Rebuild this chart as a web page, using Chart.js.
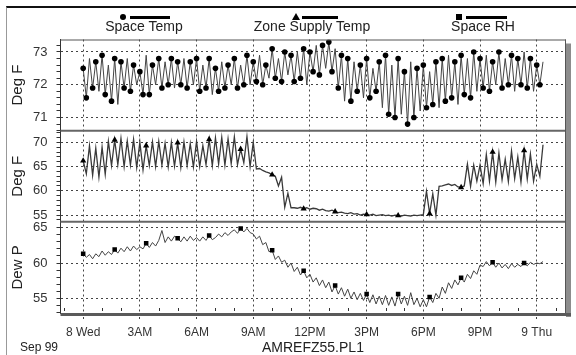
<!DOCTYPE html>
<html>
<head>
<meta charset="utf-8">
<script src="https://cdn.jsdelivr.net/npm/chart.js@4.4.0/dist/chart.umd.min.js"></script>
<style>
  body { margin: 0; background: #fff; font-family: "Liberation Sans", Arial, sans-serif; }
  #wrap { position: relative; width: 576px; height: 355px; overflow: hidden; background: #fff; }
  #frame { position: absolute; left: 6px; top: 6px; width: 580px; height: 347px; border-top: 2px solid #111; border-left: 1px solid #999; border-bottom: 1px solid #bbb; }
  canvas { position: absolute; left: 0; top: 0; }
  .lbl { position: absolute; font-size: 14px; line-height: 16px; color: #222; transform: translateX(-50%); white-space: nowrap; }
  .bar { position: absolute; height: 3px; background: #000; }
  .dot { position: absolute; width: 6px; height: 6px; border-radius: 50%; background: #000; }
  .sq { position: absolute; width: 6px; height: 6px; background: #000; }
  .tri { position: absolute; width: 0; height: 0; border-left: 4px solid transparent; border-right: 4px solid transparent; border-bottom: 7px solid #000; }
  .foot { position: absolute; color: #222; white-space: nowrap; }
</style>
</head>
<body>
<div id="wrap">
  <div id="frame"></div>
  <canvas id="chart" width="576" height="355"></canvas>

  <div class="dot" style="left:120px; top:14px;"></div>
  <div class="bar" style="left:130px; top:16px; width:40px;"></div>
  <div class="lbl" style="left:144px; top:18px;">Space Temp</div>

  <div class="tri" style="left:292px; top:13px;"></div>
  <div class="bar" style="left:302px; top:16px; width:36px;"></div>
  <div class="lbl" style="left:312px; top:18px;">Zone Supply Temp</div>

  <div class="sq" style="left:456px; top:14px;"></div>
  <div class="bar" style="left:466px; top:16px; width:41px;"></div>
  <div class="lbl" style="left:483px; top:18px;">Space RH</div>

  <div class="foot" style="left:20px; top:340px; font-size:12px;">Sep 99</div>
  <div class="foot" style="left:262px; top:339px; font-size:14px;">AMREFZ55.PL1</div>
</div>
<script>
const family = '"Liberation Sans", Arial, sans-serif';

// x axis: hours from midnight, Sep 8 -> Sep 9
const hourTicks = [0, 3, 6, 9, 12, 15, 18, 21, 24];
const hourLabels = ['8 Wed', '3AM', '6AM', '9AM', '12PM', '3PM', '6PM', '9PM', '9 Thu'];
const sampleHours = 1 / 6; // one reading every 10 minutes

const spaceTempTicks = [71, 72, 73];
const supplyTempTicks = [55, 60, 65, 70];
const dewPointTicks = [55, 60, 65];

// Space Temp (Deg F)
const spaceTemp = [
  72.5, 71.6, 72.8, 71.9, 72.7, 71.8,
  72.9, 71.7, 72.6, 71.5, 72.8, 71.4,
  72.7, 71.9, 72.8, 71.8, 72.6, 72.0,
  72.4, 71.7, 72.9, 71.7, 72.6, 72.0,
  72.8, 71.9, 72.7, 72.0, 72.8, 71.9,
  72.7, 72.0, 72.8, 71.9, 72.7, 72.0,
  72.8, 71.8, 72.6, 71.9, 72.8, 71.7,
  72.5, 71.8, 72.7, 71.9, 72.6, 72.0,
  72.8, 71.9, 72.6, 72.0, 72.9, 72.0,
  72.7, 72.1, 72.9, 72.0, 72.6, 72.2,
  73.1, 72.2, 72.8, 72.1, 73.0, 72.3,
  72.9, 72.1, 73.0, 72.2, 73.1, 72.0,
  73.0, 72.4, 73.2, 72.3, 73.2, 72.5,
  73.3, 72.4, 73.1, 71.9, 72.9, 71.5,
  72.8, 71.5, 72.7, 71.8, 72.6, 71.6,
  72.8, 71.6, 72.5, 71.8, 72.7, 71.3,
  72.9, 71.1, 72.6, 71.0, 72.8, 71.1,
  72.4, 70.8, 72.7, 71.0, 72.5, 71.2,
  72.6, 71.3, 72.4, 71.4, 72.7, 71.3,
  72.8, 71.5, 72.9, 71.6, 72.7, 71.4,
  72.9, 71.7, 72.8, 71.6, 73.0, 71.8,
  72.8, 71.9, 72.9, 71.8, 72.7, 72.0,
  73.0, 71.9, 72.8, 72.0, 72.9, 71.8,
  72.8, 72.0, 73.0, 71.9, 72.8, 71.8,
  72.6, 72.0, 72.7
];

// Zone Supply Temp (Deg F)
const supplyTemp = [
  66.2, 63.5, 69.3, 63.2, 68.8, 62.8,
  69.0, 63.4, 70.2, 65.2, 70.5, 65.4,
  70.8, 65.0, 70.3, 65.3, 70.6, 64.8,
  70.0, 64.3, 69.3, 65.2, 70.1, 65.0,
  70.2, 65.3, 69.8, 64.9, 70.0, 65.1,
  69.9, 64.8, 70.1, 65.2, 69.7, 64.9,
  70.2, 65.0, 69.3, 65.4, 70.6, 65.2,
  70.9, 65.5, 71.0, 65.3, 70.7, 65.6,
  71.1, 65.4, 68.6, 65.8, 71.2, 65.0,
  70.0, 64.5, 64.6, 64.2, 63.9, 63.7,
  63.3, 63.0, 61.0, 62.8, 56.6, 59.5,
  56.5, 56.5, 56.4, 56.6, 56.3, 56.5,
  56.2, 56.4, 56.3, 56.0, 56.2, 55.9,
  55.8, 56.0, 55.7, 55.5, 55.6, 55.4,
  55.3, 55.5, 55.2, 55.3, 55.0, 55.2,
  55.1, 55.0, 55.2, 54.9, 55.0, 55.1,
  54.9, 55.0, 54.8, 55.0, 54.9, 54.8,
  55.0, 54.9, 54.8, 55.0, 54.9, 55.0,
  55.1, 59.9, 55.3, 59.4, 55.0, 60.9,
  61.0, 61.2, 61.4, 61.1, 61.3, 60.8,
  60.7, 61.0, 65.5, 60.9, 65.3, 62.0,
  65.3, 61.5, 67.5, 62.0, 68.0, 61.8,
  67.8, 62.3, 66.5, 61.9, 68.2, 62.5,
  67.0, 61.8, 68.3, 62.4, 67.6, 62.0,
  65.5, 63.0, 69.5
];

// Dew Point (Deg F)
const dewPoint = [
  61.3, 60.8, 61.2, 60.6, 61.3, 60.9,
  61.7, 61.1, 61.6, 61.2, 61.9, 61.4,
  62.1, 61.6, 62.3, 61.7, 62.4, 61.9,
  62.3, 62.0, 62.8, 62.2, 62.9, 62.4,
  63.2, 64.6, 62.9, 63.7, 63.1, 63.8,
  63.5, 63.0, 63.7, 63.1, 63.8, 63.2,
  63.6, 63.1, 63.7, 63.2, 63.9, 63.3,
  63.6, 64.1, 63.7, 64.3, 63.9, 64.4,
  64.7, 64.2, 64.9, 64.4, 64.9, 64.3,
  64.1, 63.4, 63.8, 62.6, 62.9, 61.6,
  61.8, 60.5, 61.0, 60.1, 60.4, 59.4,
  60.0, 58.8, 59.4, 58.3, 58.9, 57.9,
  58.4, 57.3, 57.9, 56.8, 57.6, 56.5,
  57.3, 55.9, 56.8, 55.6, 56.5, 55.3,
  56.3, 55.0, 55.9, 54.8, 55.7, 54.7,
  55.6, 54.4, 55.5, 54.2, 55.3, 54.1,
  55.4, 54.0, 55.2, 53.9, 55.6, 54.2,
  55.3, 54.0, 55.8, 54.1, 55.0, 53.8,
  54.8, 53.8, 55.2, 54.4, 55.7, 55.0,
  56.6, 55.7, 57.2, 56.4, 57.6, 56.9,
  57.9, 57.3, 58.4, 57.8, 58.9, 58.4,
  59.7, 59.5, 60.2, 59.6, 60.1, 59.4,
  60.0, 59.3, 59.8, 59.2, 59.9, 59.4,
  59.8, 59.5, 60.0, 59.6, 60.1, 59.8,
  60.0, 59.9, 60.2
];

const toPoints = arr => arr.map((v, i) => ({ x: i * sampleHours, y: v }));

function panelAxis(min, max, minor, labels, title, weight) {
  return {
    type: 'linear',
    position: 'left',
    stack: 'panels',
    stackWeight: 1,
    weight: weight,
    min: min,
    max: max,
    afterBuildTicks: axis => {
      const t = [];
      for (let v = Math.ceil(min / minor) * minor; v <= max + 1e-9; v += minor) {
        t.push({ value: Math.round(v * 10) / 10 });
      }
      axis.ticks = t;
    },
    afterFit: axis => { axis.width = 55.5; },
    ticks: {
      autoSkip: false,
      padding: 9,
      color: '#333',
      font: { size: 13, family: family },
      callback: v => labels.includes(v) ? String(v) : ''
    },
    grid: {
      color: ctx => (ctx.tick && labels.includes(ctx.tick.value)) ? '#444' : 'rgba(0,0,0,0)',
      tickColor: '#333',
      tickLength: 4,
      tickBorderDash: []
    },
    border: { display: true, color: '#333', width: 1, dash: [2, 3] },
    title: {
      display: true,
      text: title,
      color: '#222',
      font: { size: 15, family: family },
      padding: { top: 4, bottom: 4 }
    }
  };
}

const framePlugin = {
  id: 'frame',
  afterDraw(chart) {
    const { ctx, chartArea: a, scales } = chart;
    ctx.save();
    // panel separators
    ctx.strokeStyle = '#666';
    ctx.lineWidth = 2;
    [scales.yMid.top, scales.yBot.top].forEach(y => {
      ctx.beginPath();
      ctx.moveTo(a.left, y);
      ctx.lineTo(a.right, y);
      ctx.stroke();
    });
    // top and right edge
    ctx.lineWidth = 1;
    ctx.strokeStyle = '#555';
    ctx.beginPath();
    ctx.moveTo(a.left, a.top + 0.5);
    ctx.lineTo(a.right, a.top + 0.5);
    ctx.moveTo(a.right - 0.5, a.top);
    ctx.lineTo(a.right - 0.5, a.bottom);
    ctx.stroke();
    // shadow box
    ctx.fillStyle = '#8c8c8c';
    ctx.fillRect(a.right, a.top + 4, 5, a.bottom - a.top);
    ctx.fillStyle = '#5a5a5a';
    ctx.fillRect(a.left, a.bottom, a.right - a.left + 5, 3);
    // hourly minor ticks inside the bottom edge
    ctx.strokeStyle = '#333';
    ctx.beginPath();
    for (let h = -1; h <= 25; h++) {
      if (h % 3 === 0) continue;
      const x = Math.round(scales.x.getPixelForValue(h)) + 0.5;
      ctx.moveTo(x, a.bottom - 5);
      ctx.lineTo(x, a.bottom - 2);
    }
    ctx.stroke();
    ctx.restore();
  }
};

new Chart(document.getElementById('chart'), {
  type: 'line',
  data: {
    datasets: [
      {
        label: 'Space Temp',
        data: toPoints(spaceTemp),
        yAxisID: 'yTop',
        borderColor: '#444',
        borderWidth: 1,
        pointStyle: 'circle',
        pointRadius: ctx => (ctx.dataIndex % 3 !== 2 ? 2.8 : 0),
        pointBackgroundColor: '#000',
        pointBorderWidth: 0
      },
      {
        label: 'Zone Supply Temp',
        data: toPoints(supplyTemp),
        yAxisID: 'yMid',
        borderColor: '#3a3a3a',
        borderWidth: 1.3,
        pointStyle: 'triangle',
        pointRadius: ctx => (ctx.dataIndex % 10 === 0 ? 3.6 : 0),
        pointBackgroundColor: '#000',
        pointBorderWidth: 0
      },
      {
        label: 'Space RH',
        data: toPoints(dewPoint),
        yAxisID: 'yBot',
        borderColor: '#444',
        borderWidth: 1,
        pointStyle: 'rect',
        pointRadius: ctx => (ctx.dataIndex % 10 === 0 ? 3.2 : 0),
        pointBackgroundColor: '#000',
        pointBorderWidth: 0
      }
    ]
  },
  options: {
    responsive: false,
    animation: false,
    devicePixelRatio: 1,
    layout: { padding: { left: 5, top: 39.5, right: 10, bottom: 12 } },
    elements: { line: { tension: 0 } },
    plugins: { legend: { display: false }, tooltip: { enabled: false } },
    scales: {
      x: {
        type: 'linear',
        position: 'bottom',
        min: -1.2,
        max: 25.55,
        afterBuildTicks: axis => { axis.ticks = hourTicks.map(v => ({ value: v })); },
        afterFit: axis => { axis.height = 30; },
        ticks: {
          autoSkip: false,
          maxRotation: 0,
          padding: 4,
          color: '#333',
          font: { size: 12, family: family },
          callback: (v, i) => hourLabels[i]
        },
        grid: { color: '#444', tickColor: '#444', tickLength: 8, tickBorderDash: [2, 2] },
        border: { display: false, dash: [2, 3] }
      },
      yBot: panelAxis(52.92, 65.83, 1, dewPointTicks, 'Dew P', 1),
      yMid: panelAxis(53.6, 72.4, 1, supplyTempTicks, 'Deg F', 2),
      yTop: panelAxis(70.6, 73.38, 0.2, spaceTempTicks, 'Deg F', 3)
    }
  },
  plugins: [framePlugin]
});
</script>
</body>
</html>
